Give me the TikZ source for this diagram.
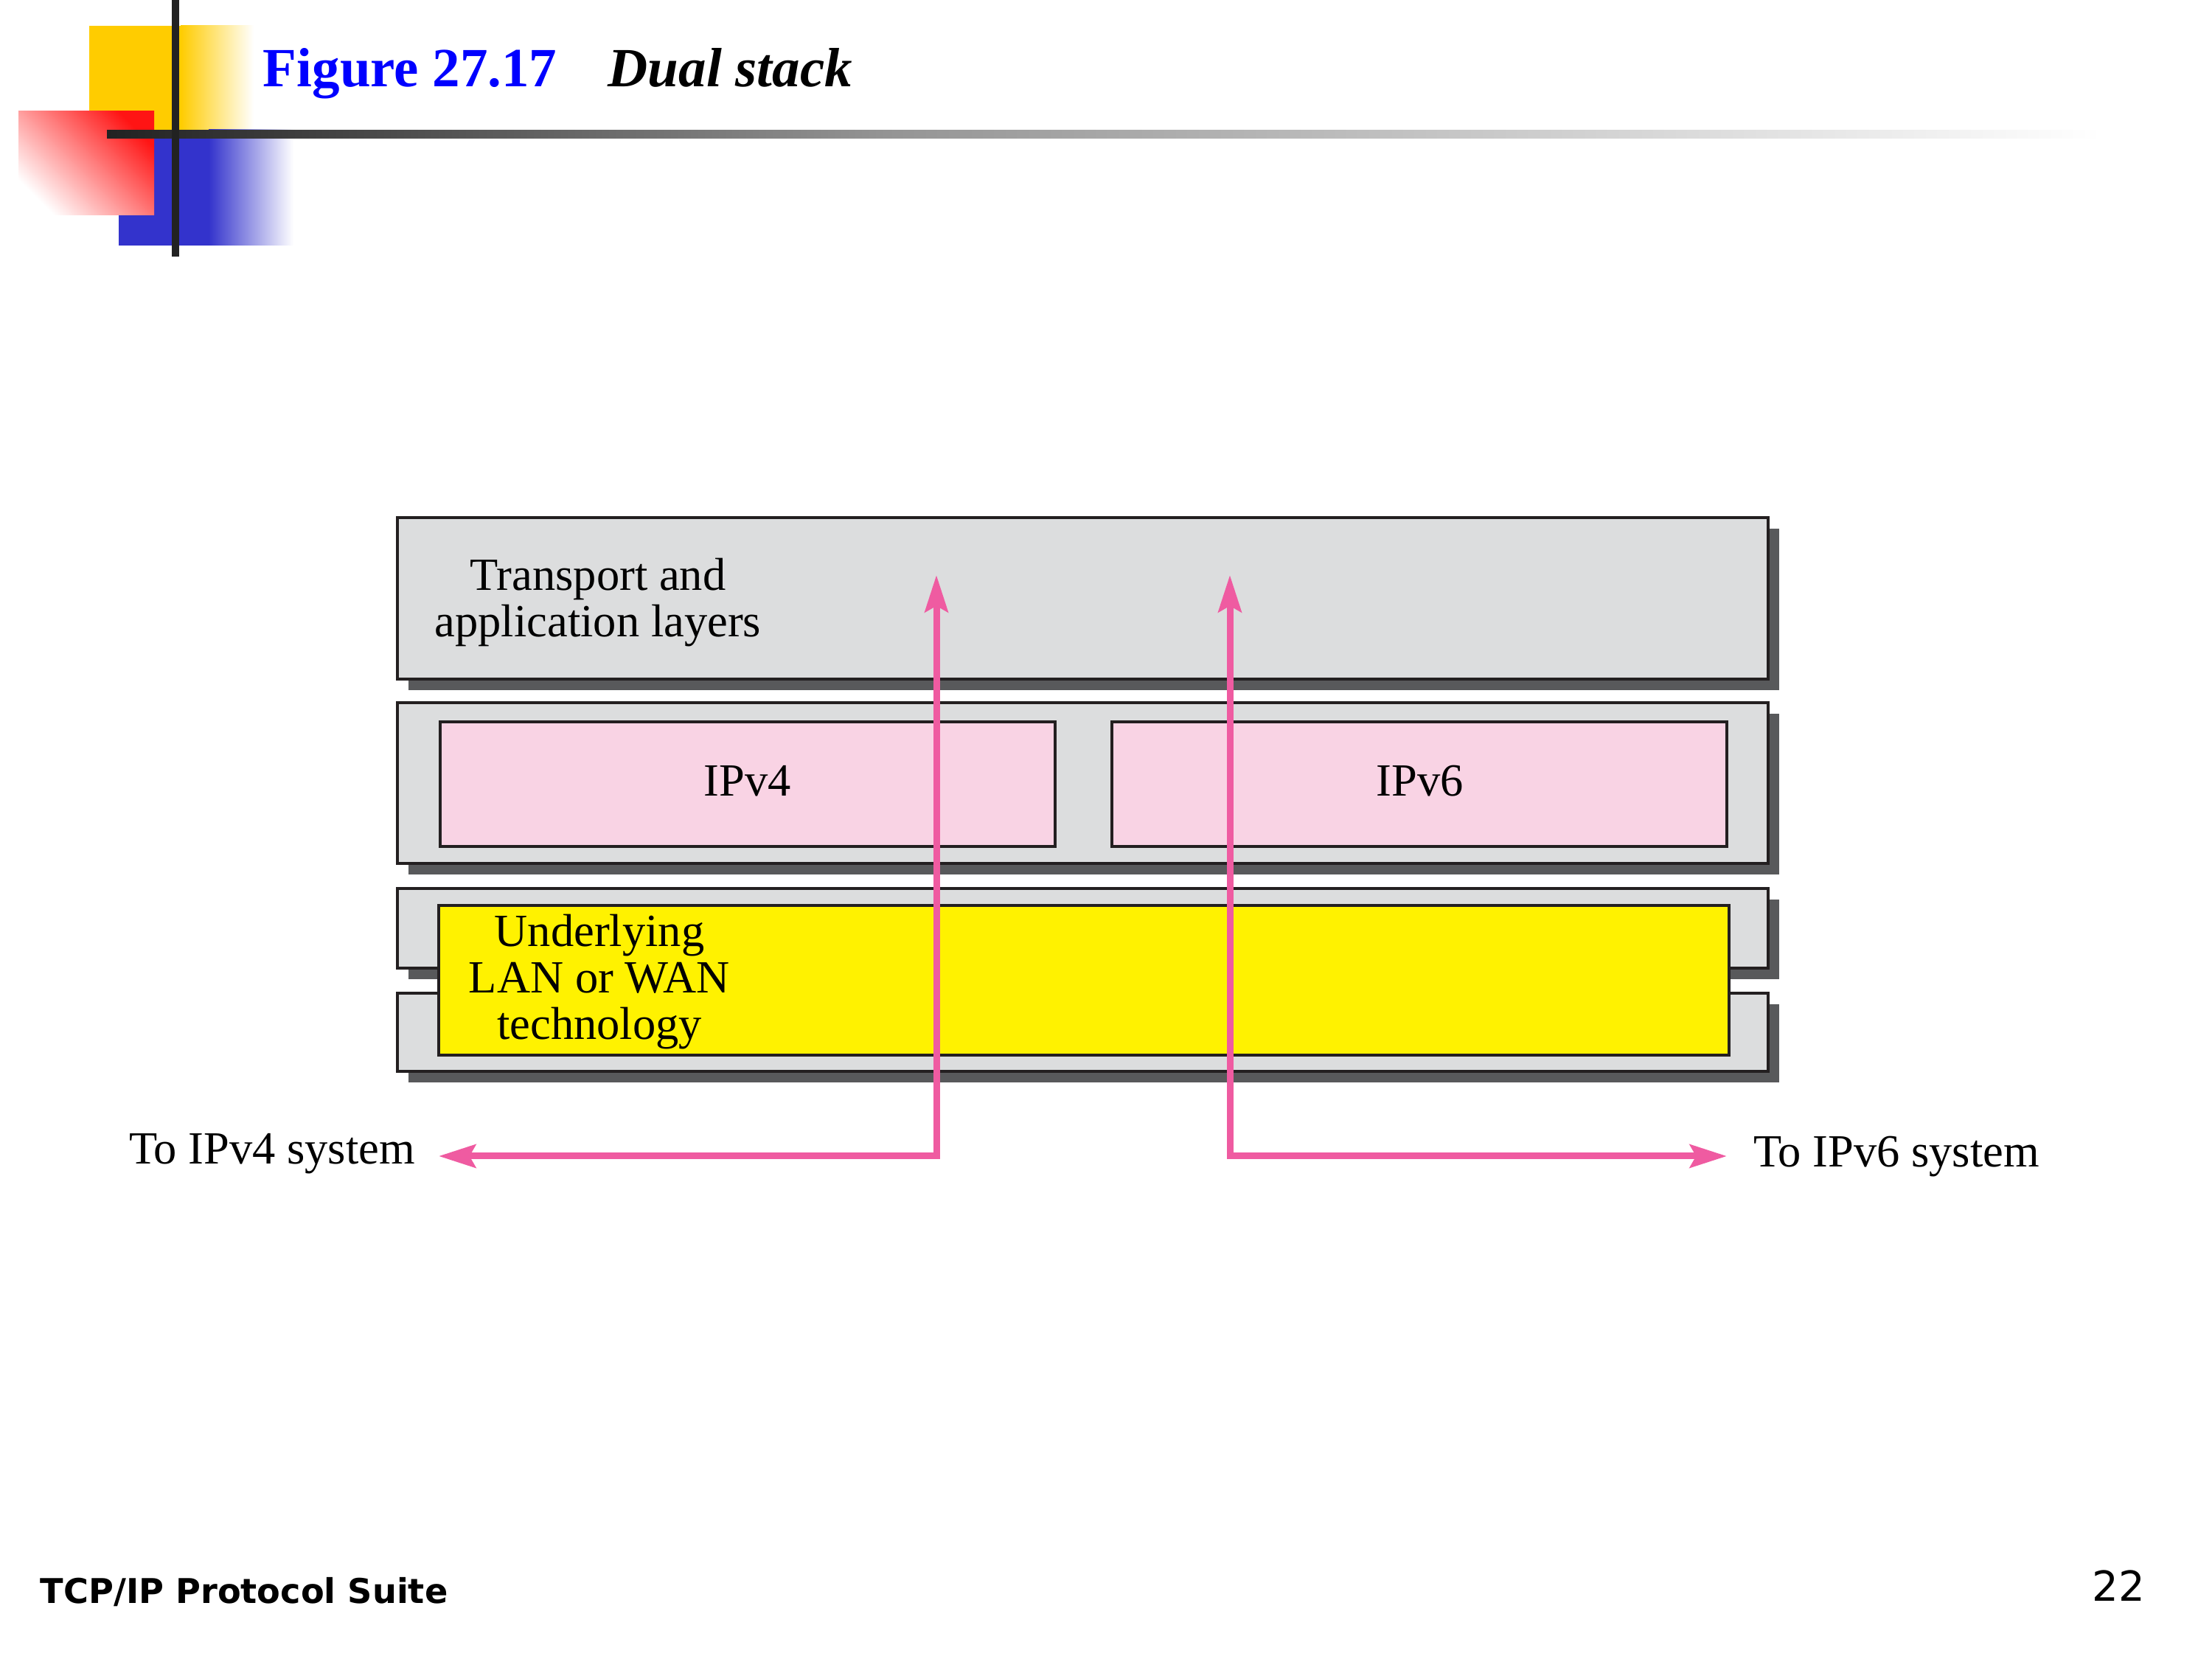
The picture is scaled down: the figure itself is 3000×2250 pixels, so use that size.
\documentclass[tikz,border=0pt]{standalone}
\usepackage{fontspec}
\setmainfont{Liberation Serif}
\newfontfamily\footfont{DejaVu Sans}
\usetikzlibrary{arrows.meta,shadows}
\definecolor{boxgray}{RGB}{220,221,222}
\definecolor{shadowgray}{RGB}{88,89,91}
\definecolor{boxline}{RGB}{35,31,32}
\definecolor{ippink}{RGB}{249,211,228}
\definecolor{lanyellow}{RGB}{255,242,0}
\definecolor{arrowpink}{RGB}{239,91,161}
\definecolor{titleblue}{RGB}{0,0,255}
\definecolor{decoyellow}{RGB}{255,204,0}
\definecolor{decoblue}{RGB}{51,51,204}
\definecolor{decored}{RGB}{255,20,20}
\definecolor{decoline}{RGB}{34,34,34}
\tikzset{
  layerbox/.style={draw=boxline, line width=0.9pt, fill=boxgray, anchor=north west,
    inner sep=0pt, outer sep=0pt,
    general shadow={fill=shadowgray, shadow xshift=3.5pt, shadow yshift=-3.5pt}},
  ipbox/.style={draw=boxline, line width=0.8pt, fill=ippink, anchor=north west,
    inner sep=0pt, outer sep=0pt, minimum width=200.2pt, minimum height=40.56pt},
  lanbox/.style={draw=boxline, line width=0.9pt, fill=lanyellow, anchor=north west,
    inner sep=0pt, outer sep=0pt},
  figtext/.style={inner sep=0pt, outer sep=0pt, font=\fontsize{15pt}{15.1pt}\selectfont},
  pinkarrow/.style={draw=arrowpink, line width=2.16pt,
    {Stealth[length=12pt,width=7.5pt,inset=2pt]}-{Stealth[length=12pt,width=7.5pt,inset=2pt]}},
}
\begin{document}
\begin{tikzpicture}[x=0.24pt, y=-0.24pt]
\useasboundingbox (0,0) rectangle (3000,2250);

% slide decoration
\fill[decoyellow] (121,35) rectangle (245,176);
\shade[left color=decoyellow, right color=white] (245,35) rectangle (344,176);
\fill[decoblue] (161,176) rectangle (283,333);
\shade[left color=decoblue, right color=white] (283,176) rectangle (398,333);
\shade[top color=decored, bottom color=white, shading angle=-45]
  (25,151) rectangle (209,292);
\shade[left color=decoline, right color=black!42] (145,177) rectangle (1200,188);
\shade[left color=black!42, right color=white] (1200,177) rectangle (2850,188);
\fill[decoline] (233,0) rectangle (243,348);

% title
\node[anchor=base west, inner sep=0pt, text=titleblue,
  font=\fontsize{18pt}{21pt}\selectfont\bfseries] (fig) at (356,118) {Figure 27.17};
\node[anchor=base west, inner sep=0pt,
  font=\fontsize{18pt}{21pt}\selectfont\bfseries\itshape] (ttl) at (824,118) {Dual stack};

% layers
\node[layerbox, minimum width=446.2pt, minimum height=52.56pt] (top) at (539,702) {};
\node[layerbox, minimum width=446.2pt, minimum height=52.32pt] (mid) at (539,953) {};
\node[ipbox] (ipv4) at (597,979) {};
\node[ipbox] (ipv6) at (1508,979) {};
\node[layerbox, minimum width=446.2pt, minimum height=25.92pt] (lowa) at (539,1205) {};
\node[layerbox, minimum width=446.2pt, minimum height=25.44pt] (lowb) at (539,1347) {};
\node[lanbox, minimum width=420pt, minimum height=48.72pt] (lan) at (595,1228) {};

% labels
\node[figtext, anchor=north, align=center] (trl) at (811,757) {Transport and\\application layers};
\node[figtext, anchor=base] (v4l) at (1014,1080) {IPv4};
\node[figtext, anchor=base] (v6l) at (1926,1080) {IPv6};
\node[figtext, anchor=north, align=center] (lanl) at (813,1240) {Underlying\\LAN or WAN\\technology};
\node[figtext, anchor=base east] (to4) at (563,1579) {To IPv4 system};
\node[figtext, anchor=base west] (to6) at (2378,1583) {To IPv6 system};

% arrows
\coordinate (up4) at (1270,780);
\coordinate (out4) at (595,1568);
\coordinate (up6) at (1668,780);
\coordinate (out6) at (2342,1568);
\draw[pinkarrow] (up4) |- (out4);
\draw[pinkarrow] (up6) |- (out6);

% footer
\node[anchor=base west, inner sep=0pt, font=\footfont\bfseries\fontsize{11.1pt}{13pt}\selectfont]
  (foot) at (54,2175) {TCP/IP Protocol Suite};
\node[anchor=base east, inner sep=0pt, font=\footfont\fontsize{13.5pt}{15pt}\selectfont]
  (pg) at (2910,2172) {22};
\end{tikzpicture}
\end{document}
